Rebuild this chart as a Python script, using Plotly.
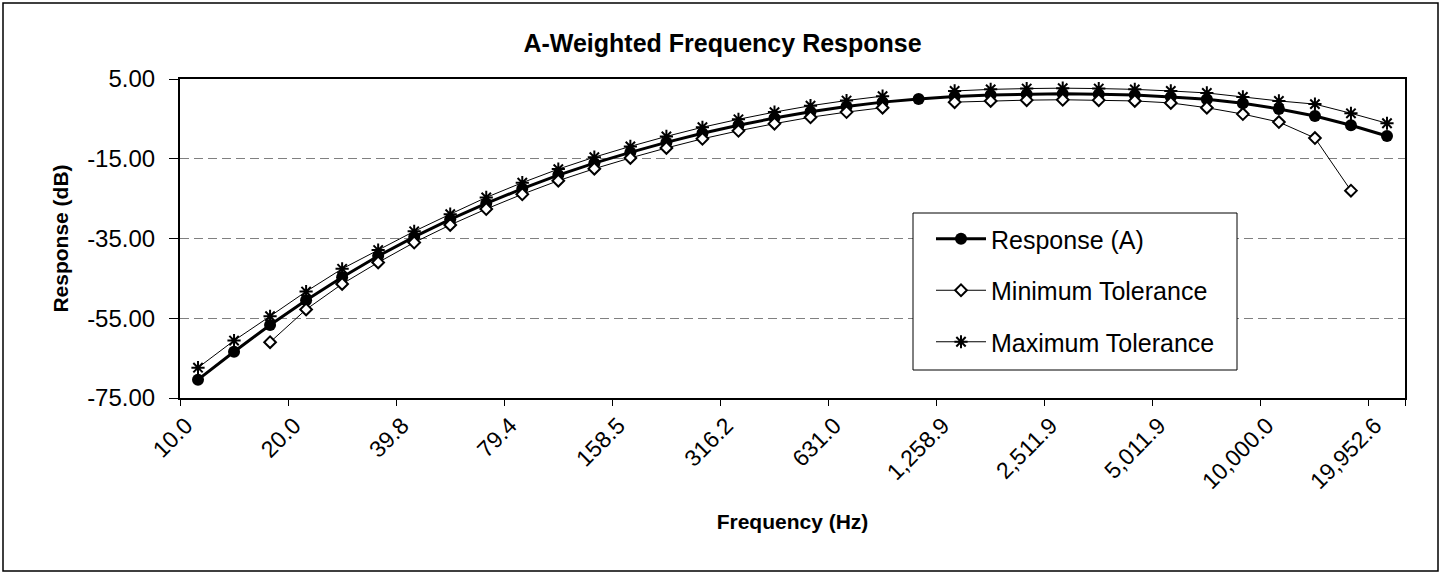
import plotly.graph_objects as go

# 1/3-octave band centre frequencies (Hz)
freq_hz = [10.0, 12.6, 15.8, 20.0, 25.1, 31.6, 39.8, 50.1, 63.1, 79.4,
           100.0, 125.9, 158.5, 199.5, 251.2, 316.2, 398.1, 501.2, 631.0, 794.3,
           1000.0, 1258.9, 1584.9, 1995.3, 2511.9, 3162.3, 3981.1, 5011.9, 6309.6, 7943.3,
           10000.0, 12589.3, 15848.9, 19952.6]

response_a = [-70.4, -63.4, -56.7, -50.5, -44.7, -39.4, -34.6, -30.2, -26.2, -22.5,
              -19.1, -16.1, -13.4, -10.9, -8.6, -6.6, -4.8, -3.2, -1.9, -0.8,
              0.0, 0.6, 1.0, 1.2, 1.3, 1.2, 1.0, 0.5, -0.1, -1.1,
              -2.5, -4.3, -6.6, -9.3]

min_tolerance = [None, None, -61.0, -52.8, -46.4, -41.0, -36.0, -31.6, -27.6, -23.9,
                 -20.5, -17.5, -14.8, -12.3, -10.0, -8.0, -6.2, -4.6, -3.3, -2.2,
                 None, -0.8, -0.5, -0.3, -0.2, -0.3, -0.5, -1.0, -2.2, -3.8,
                 -5.8, -9.8, -23.0, None]

max_tolerance = [-67.4, -60.6, -54.5, -48.3, -42.6, -37.9, -33.2, -28.9, -24.7, -21.0,
                 -17.6, -14.6, -11.9, -9.4, -7.1, -5.1, -3.3, -1.7, -0.4, 0.7,
                 None, 2.0, 2.4, 2.6, 2.7, 2.6, 2.4, 2.0, 1.5, 0.5,
                 -0.5, -1.3, -3.6, -6.1]

y_tick_values = [5, -15, -35, -55, -75]
y_tick_labels = ["5.00", "-15.00", "-35.00", "-55.00", "-75.00"]

FONT = "Liberation Sans, Arial, sans-serif"

categories = [f"{f:,.1f}" for f in freq_hz]
x_tick_labels = categories[::3]

# pixel geometry of the reference
W, H = 1445, 575
PL, PR, PT, PB = 180, 1405, 79, 398
pw, ph = PR - PL, PB - PT


def px(x):
    return (x - PL) / pw


def py(y):
    return (PB - y) / ph


fig = go.Figure()
fig.add_trace(go.Scatter(
    x=categories, y=response_a, name="Response (A)", mode="lines+markers",
    line=dict(color="black", width=3),
    marker=dict(symbol="circle", size=12, color="black"),
    legendgroup="a"))
fig.add_trace(go.Scatter(
    x=categories, y=min_tolerance, name="Minimum Tolerance", mode="lines+markers",
    line=dict(color="black", width=1),
    marker=dict(symbol="diamond", size=9, color="white", line=dict(color="black", width=2)),
    connectgaps=False, legendgroup="b"))
fig.add_trace(go.Scatter(
    x=categories, y=max_tolerance, name="Maximum Tolerance", mode="lines+markers",
    line=dict(color="black", width=1),
    marker=dict(symbol="asterisk-open", size=11, color="black", line=dict(color="black", width=2)),
    connectgaps=False, legendgroup="c"))

fig.update_layout(
    width=W, height=H,
    margin=dict(l=PL, r=W - PR, t=PT, b=H - PB),
    paper_bgcolor="white", plot_bgcolor="white",
    font=dict(family=FONT, color="black"),
    title=dict(text="<b>A-Weighted Frequency Response</b>", x=0.5, xref="container",
               y=1 - 43 / H, yanchor="middle", font=dict(size=25, family=FONT)),
    legend=dict(x=px(931), y=py(216), xanchor="left", yanchor="top",
                bgcolor="rgba(0,0,0,0)", borderwidth=0,
                font=dict(size=25, family=FONT), tracegroupgap=16,
                traceorder="grouped", itemwidth=50),
    showlegend=True,
)

fig.update_xaxes(
    type="category", categoryorder="array", categoryarray=categories,
    range=[-0.5, len(categories) - 0.5],
    tickmode="array", tickvals=x_tick_labels, ticktext=x_tick_labels,
    tickson="boundaries", ticks="outside", ticklen=6, tickcolor="black", tickwidth=1,
    tickangle=-45, tickfont=dict(size=23, family=FONT),
    ticklabelshift=-12, ticklabelstandoff=3,
    showline=True, linecolor="black", linewidth=2, mirror=True,
    showgrid=False, zeroline=False,
    title=dict(text="<b>Frequency (Hz)</b>", font=dict(size=21, family=FONT), standoff=21),
)
fig.update_yaxes(
    range=[-75, 5], tickmode="array", tickvals=y_tick_values, ticktext=y_tick_labels,
    ticks="outside", ticklen=9, tickcolor="black", tickwidth=1,
    tickfont=dict(size=24, family=FONT), ticklabelstandoff=9,
    showline=True, linecolor="black", linewidth=2, mirror=True,
    showgrid=True, gridcolor="#808080", gridwidth=1, griddash="9px,5px",
    zeroline=False,
    title=dict(text="<b>Response (dB)</b>", font=dict(size=21, family=FONT), standoff=13),
)

# outer chart-area border
fig.add_shape(type="rect", xref="paper", yref="paper",
              x0=px(3), x1=px(1438), y0=py(571), y1=py(3),
              line=dict(color="black", width=1.5), fillcolor="rgba(0,0,0,0)", layer="below")
# legend box
fig.add_shape(type="rect", xref="paper", yref="paper",
              x0=px(913), x1=px(1237), y0=py(370), y1=py(213),
              line=dict(color="black", width=1), fillcolor="white", layer="above")

fig.write_html("out.html", config={"displayModeBar": False},
               post_script="document.body.style.margin='0';document.body.style.overflow='hidden';")
